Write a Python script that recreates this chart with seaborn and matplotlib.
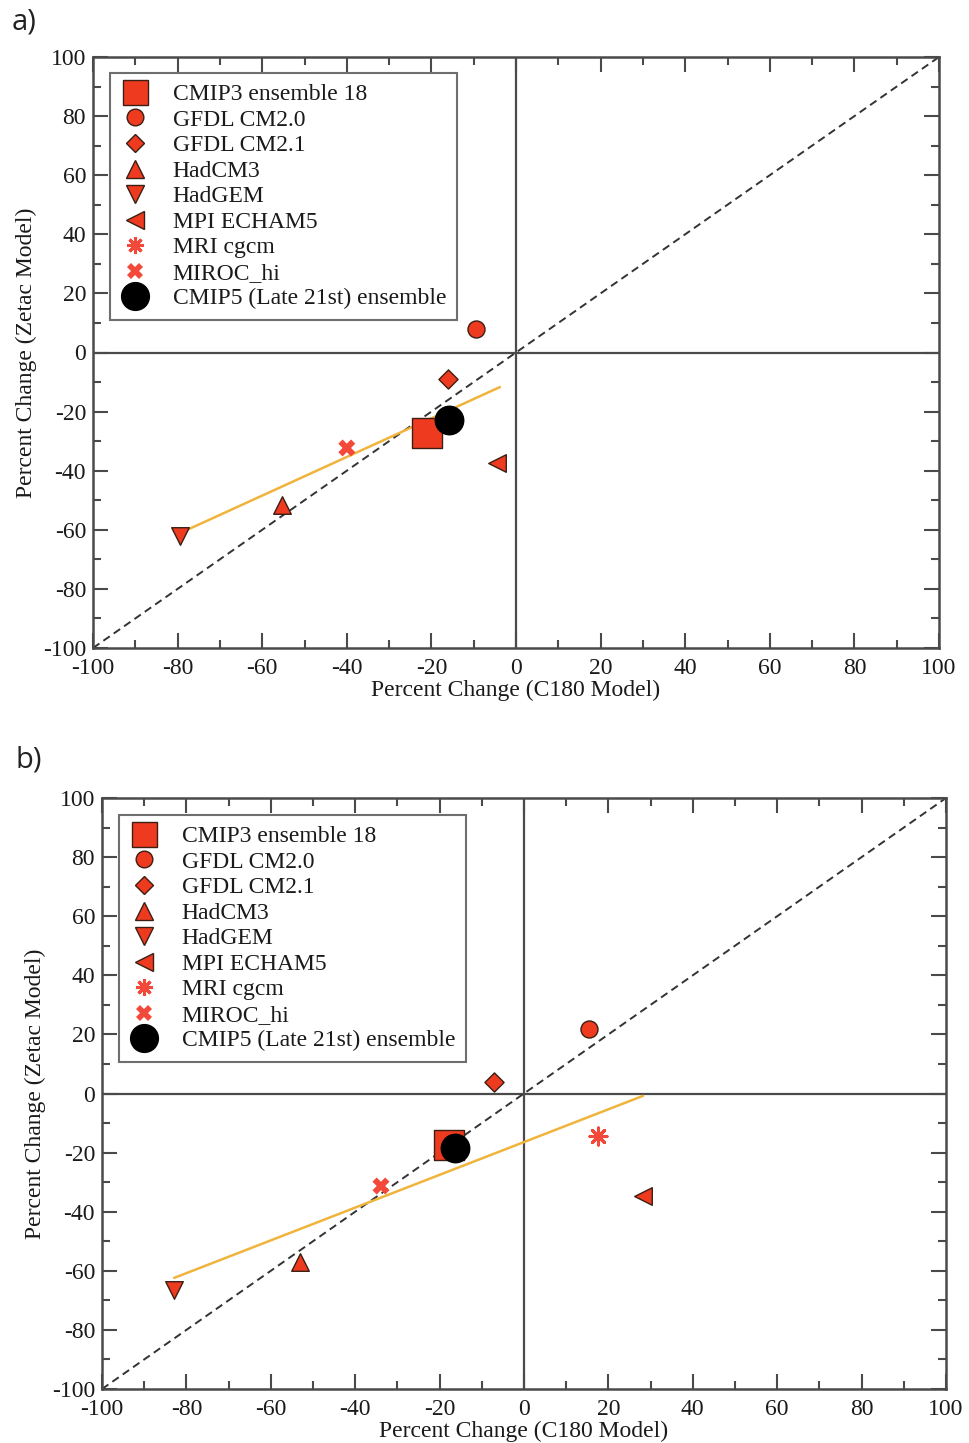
import numpy as np
import pandas as pd
import matplotlib
matplotlib.use("Agg")
import matplotlib.pyplot as plt
from matplotlib.lines import Line2D
from matplotlib.ticker import MultipleLocator
import seaborn as sns

sns.set_theme(style="ticks")
plt.rcParams["font.family"] = ["Liberation Serif", "DejaVu Serif"]
plt.rcParams["axes.unicode_minus"] = False

# ---- data ---------------------------------------------------------------
models = ["CMIP3 ensemble 18", "GFDL CM2.0", "GFDL CM2.1", "HadCM3", "HadGEM",
          "MPI ECHAM5", "MRI cgcm", "MIROC_hi", "CMIP5 (Late 21st) ensemble"]

# panel a) percent change, C180 model (x) vs Zetac model (y)
a_x = [-21.0, -9.5, -16.1, -55.3, -79.4, -4.5, np.nan, -40.0, -15.8]
a_y = [-27.2, 7.9, -9.0, -51.6, -62.1, -37.4, np.nan, -32.3, -22.8]
# panel b)
b_x = [-17.8, 15.4, -7.1, -53.1, -82.9, 28.2, 17.5, -33.9, -16.4]
b_y = [-17.4, 21.8, 3.9, -57.0, -66.5, -34.7, -14.4, -31.3, -18.4]

# linear fit lines (end points)
fit_a_x = [-79.4, -3.8]
fit_a_y = [-61.1, -11.7]
fit_b_x = [-82.9, 28.2]
fit_b_y = [-62.4, -0.8]

axis_ticks = [-100, -80, -60, -40, -20, 0, 20, 40, 60, 80, 100]

# ---- styles -------------------------------------------------------------
RED = "#ee3b1f"
RED2 = "#f2493a"
EDGE = "#3b1e14"
styles = {
    "CMIP3 ensemble 18": dict(marker="s", s=460, color=RED, edgecolor=EDGE, lw=1.0, ms=18),
    "GFDL CM2.0": dict(marker="o", s=150, color=RED, edgecolor=EDGE, lw=1.0, ms=12),
    "GFDL CM2.1": dict(marker="D", s=95, color=RED, edgecolor=EDGE, lw=1.0, ms=9.5),
    "HadCM3": dict(marker="^", s=160, color=RED, edgecolor=EDGE, lw=1.0, ms=12.5),
    "HadGEM": dict(marker="v", s=160, color=RED, edgecolor=EDGE, lw=1.0, ms=12.5),
    "MPI ECHAM5": dict(marker="<", s=160, color=RED, edgecolor=EDGE, lw=1.0, ms=12.5),
    "MRI cgcm": dict(marker=(8, 2, 0), s=150, color=RED2, edgecolor=RED2, lw=2.2, ms=12),
    "MIROC_hi": dict(marker="X", s=150, color=RED2, edgecolor="none", lw=0, ms=12),
    "CMIP5 (Late 21st) ensemble": dict(marker="o", s=420, color="black", edgecolor="black", lw=1.0, ms=20),
}

FRAME = "#4a4a4a"
FS = 17

fig = plt.figure(figsize=(9.69, 14.43), dpi=100)
ax_a = fig.add_axes([93 / 969, 1 - 648 / 1443, 846 / 969, 591 / 1443])
ax_b = fig.add_axes([102 / 969, 1 - 1389 / 1443, 844 / 969, 591 / 1443])


def legend_handles():
    hs = []
    for m in models:
        st = styles[m]
        mfc = st["color"]
        hs.append(Line2D([], [], linestyle="none", marker=st["marker"],
                         markersize=st["ms"], markerfacecolor=mfc,
                         markeredgecolor=st["edgecolor"] if st["edgecolor"] != "none" else mfc,
                         markeredgewidth=st["lw"] if st["lw"] > 0 else 0.0,
                         color=mfc, label=m))
    return hs


def draw_panel(ax, xs, ys, fx, fy, legend_anchor):
    ax.set_xlim(-100, 100)
    ax.set_ylim(-100, 100)
    # zero lines and 1:1 line
    ax.axhline(0, color=FRAME, lw=1.6, zorder=1)
    ax.axvline(0, color=FRAME, lw=1.6, zorder=1)
    diag = pd.DataFrame({"x": [-100, 100], "y": [-100, 100]})
    sns.lineplot(data=diag, x="x", y="y", ax=ax, color="#333333", lw=1.4,
                 linestyle=(0, (4, 2.5)), zorder=2)
    fit = pd.DataFrame({"x": fx, "y": fy})
    sns.lineplot(data=fit, x="x", y="y", ax=ax, color="#f0b43c", lw=1.8, zorder=3)

    df = pd.DataFrame({"model": models, "x": xs, "y": ys})
    for m in models:
        row = df[df.model == m].dropna()
        if row.empty:
            continue
        st = styles[m]
        sns.scatterplot(data=row, x="x", y="y", ax=ax, marker=st["marker"],
                        s=st["s"], color=st["color"], edgecolor=st["edgecolor"],
                        linewidth=st["lw"], zorder=5 if "CMIP5" not in m else 6,
                        legend=False)

    ax.set_xticks(axis_ticks)
    ax.set_yticks(axis_ticks)
    ax.xaxis.set_minor_locator(MultipleLocator(10))
    ax.yaxis.set_minor_locator(MultipleLocator(10))
    ax.tick_params(which="both", direction="in", top=True, right=True,
                   color=FRAME, width=1.5)
    ax.tick_params(which="major", length=11, labelsize=FS, labelcolor="#1a1a1a")
    ax.tick_params(axis="x", which="major", pad=7)
    ax.tick_params(axis="y", which="major", pad=5)
    ax.tick_params(which="minor", length=5.5)
    for sp in ax.spines.values():
        sp.set_color(FRAME)
        sp.set_linewidth(1.8)
    ax.set_xlabel("Percent Change (C180 Model)", fontsize=FS, color="#1a1a1a", labelpad=1)
    ax.set_ylabel("Percent Change (Zetac Model)", fontsize=FS, color="#1a1a1a", labelpad=4)

    leg = ax.legend(handles=legend_handles(), loc="upper left",
                    bbox_to_anchor=legend_anchor, borderaxespad=0,
                    fontsize=FS, frameon=True, fancybox=False,
                    handlelength=1.2, handletextpad=1.0, borderpad=0.45,
                    labelspacing=0.17)
    leg.get_frame().set_edgecolor(FRAME)
    leg.get_frame().set_linewidth(1.5)
    for t in leg.get_texts():
        t.set_color("#1a1a1a")


draw_panel(ax_a, a_x, a_y, fit_a_x, fit_a_y, ((110 - 93) / 846, (648 - 73) / 591))
draw_panel(ax_b, b_x, b_y, fit_b_x, fit_b_y, ((119 - 102) / 844, (1389 - 815) / 591))

fig.text(12 / 969, 1 - 22 / 1443, "a)", fontsize=21, family="Open Sans",
         color="#222222", va="center", ha="left")
fig.text(15 / 969, 1 - 760 / 1443, "b)", fontsize=21, family="Open Sans",
         color="#222222", va="center", ha="left")

fig.savefig("out.png", dpi=100, facecolor="white")
